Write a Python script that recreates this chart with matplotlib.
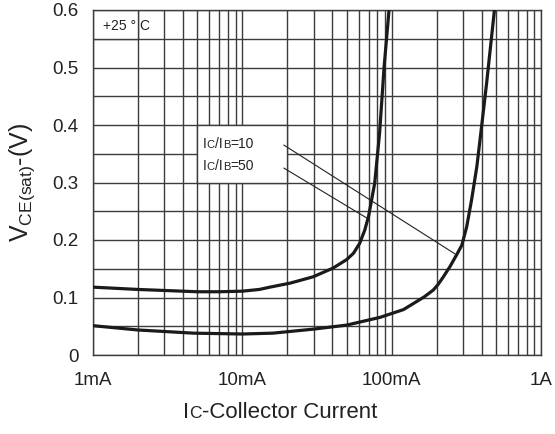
import matplotlib
matplotlib.use('Agg')
import matplotlib.pyplot as plt
from matplotlib.patches import Rectangle
from matplotlib.ticker import NullFormatter
from matplotlib.offsetbox import TextArea, HPacker, AnnotationBbox

plt.rcParams['font.family'] = ['Liberation Sans', 'DejaVu Sans']
plt.rcParams['mathtext.fontset'] = 'custom'
plt.rcParams['mathtext.rm'] = 'Liberation Sans'
plt.rcParams['mathtext.it'] = 'Liberation Sans:italic'

# Collector current (mA) and saturation voltage (V), Ic/Ib = 50
ic_50 = [1, 2, 5, 7, 10, 13, 15.3, 20.9, 29.8, 40.4, 50, 55.5, 61, 66, 70,
         77, 83, 89, 96]
vce_50 = [0.118, 0.114, 0.110, 0.110, 0.111, 0.114, 0.118, 0.125, 0.136,
          0.151, 0.166, 0.177, 0.194, 0.217, 0.241, 0.299, 0.386, 0.501,
          0.600]

# Collector current (mA) and saturation voltage (V), Ic/Ib = 10
ic_10 = [1, 2, 4.7, 10, 16, 30, 50, 83.7, 120, 147, 165, 190, 205, 222, 246,
         272, 295, 318, 343, 372, 400, 432, 467, 490]
vce_10 = [0.051, 0.0435, 0.038, 0.0365, 0.038, 0.045, 0.052, 0.0655, 0.079,
          0.093, 0.101, 0.113, 0.123, 0.136, 0.154, 0.174, 0.191, 0.223,
          0.270, 0.328, 0.397, 0.472, 0.554, 0.605]

x_ticks = [1, 10, 100, 1000]
x_tick_labels = ['1mA', '10mA', '100mA', '1A']
y_ticks = [0, 0.1, 0.2, 0.3, 0.4, 0.5, 0.6]
y_tick_labels = ['0', '0.1', '0.2', '0.3', '0.4', '0.5', '0.6']

# Leader lines from the ratio labels to their curves: (x0, y0, x1, y1)
leader_10 = (19.0, 0.365, 265.0, 0.176)
leader_50 = (19.0, 0.325, 68.4, 0.238)

grid_color = '#3c3c3c'
curve_color = '#1a1a1a'
text_color = '#222222'

fig = plt.figure(figsize=(5.55, 4.34), dpi=100)
ax = fig.add_axes([93 / 555, 79 / 434, 448 / 555, 345 / 434])

ax.set_xscale('log')
ax.set_xlim(1, 1000)
ax.set_ylim(0, 0.6)

ax.set_xticks(x_ticks)
ax.set_xticklabels(x_tick_labels)
minor_x = [m * d for d in (1, 10, 100) for m in range(2, 10)]
ax.set_xticks(minor_x, minor=True)
ax.xaxis.set_minor_formatter(NullFormatter())

ax.set_yticks(y_ticks)
ax.set_yticklabels(y_tick_labels)
ax.set_yticks([0.05, 0.15, 0.25, 0.35, 0.45, 0.55], minor=True)

ax.set_axisbelow(True)
ax.grid(which='both', color=grid_color, linewidth=1.0)
ax.tick_params(which='both', length=0, labelsize=13.5, colors=text_color)
ax.tick_params(axis='x', pad=12)
ax.tick_params(axis='y', pad=10.5)
for s in ax.spines.values():
    s.set_color(grid_color)
    s.set_linewidth(1.0)

# White label boxes that break the grid
ax.add_patch(Rectangle((1, 0.55), 1, 0.05, facecolor='white',
                       edgecolor=grid_color, linewidth=1.0, zorder=1))
ax.add_patch(Rectangle((5, 0.3), 15, 0.1, facecolor='white',
                       edgecolor=grid_color, linewidth=1.0, zorder=1))

ax.plot(ic_50, vce_50, color=curve_color, linewidth=2.3,
        solid_joinstyle='round', solid_capstyle='round', zorder=3)
ax.plot(ic_10, vce_10, color=curve_color, linewidth=2.3,
        solid_joinstyle='round', solid_capstyle='round', zorder=3)

for x0, y0, x1, y1 in (leader_10, leader_50):
    ax.plot([x0, x1], [y0, y1], color=text_color, linewidth=0.8, zorder=2)

ax.text(1.17, 0.572, '+25 ° C', fontsize=10, va='center', ha='left',
        color=text_color, zorder=4)


def ratio_label(ratio):
    big = dict(fontsize=10, color=text_color)
    small = dict(fontsize=8, color=text_color)
    parts = [TextArea('I', textprops=big), TextArea('C', textprops=small),
             TextArea('/I', textprops=big), TextArea('B', textprops=small),
             TextArea('=' + ratio, textprops=big)]
    return HPacker(children=parts, align='baseline', pad=0, sep=0)


for ratio, yv in (('10', 0.367), ('50', 0.329)):
    ab = AnnotationBbox(ratio_label(ratio), (5.45, yv), xycoords='data',
                        box_alignment=(0, 0.5), frameon=False, pad=0,
                        zorder=4)
    ax.add_artist(ab)

# Axis titles
fig.text(22 / 555, 1 - 182 / 434, r'$\mathregular{V_{CE(sat)}}$-(V)',
         rotation=90, ha='center', va='center', fontsize=18,
         color=text_color)

xl_big = dict(fontsize=16, color=text_color)
xl_small = dict(fontsize=12.5, color=text_color)
xlabel_box = HPacker(children=[TextArea('I', textprops=xl_big),
                               TextArea('C', textprops=xl_small),
                               TextArea('-Collector Current', textprops=xl_big)],
                     align='baseline', pad=0, sep=0)
fig.add_artist(AnnotationBbox(xlabel_box, (280 / 555, 1 - 413 / 434),
                              xycoords='figure fraction',
                              box_alignment=(0.5, 0.5), frameon=False, pad=0))

fig.savefig('out.png', dpi=100)
